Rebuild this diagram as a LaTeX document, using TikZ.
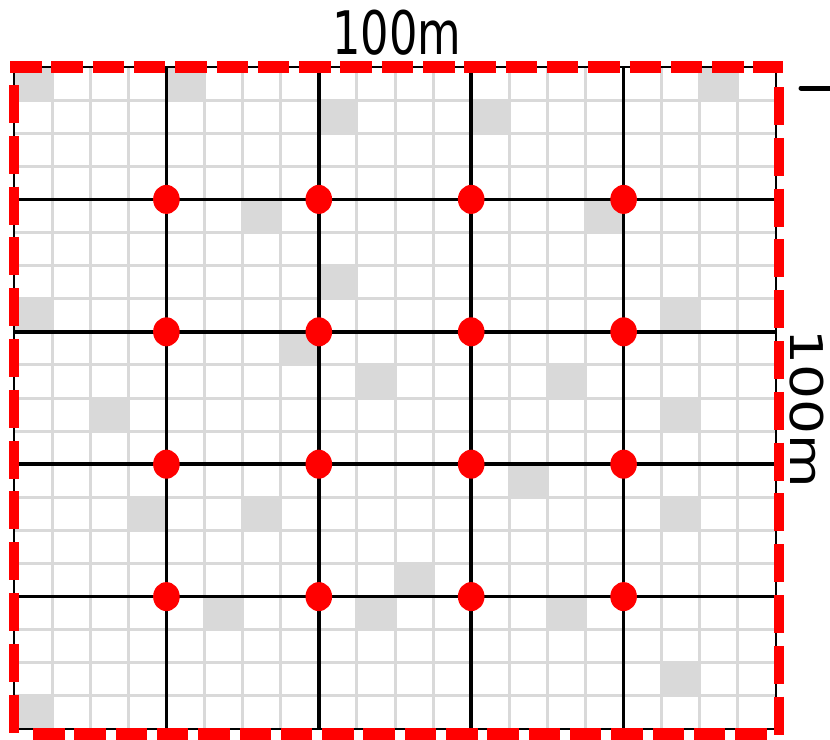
\documentclass[tikz,border=0pt]{standalone}
\usepackage{fontspec}
\setmainfont{DejaVu Sans}
\usepackage{tikz}
\definecolor{cellgray}{HTML}{D9D9D9}
\tikzset{
  fine/.style={draw=cellgray,line width=3pt},
  major/.style={draw=black,line width=3.5pt},
  frame/.style={draw=black,line width=2.5pt},
  hedge/.style={draw=red,line width=12pt,dash pattern=on 31.5pt off 9.8pt},
  vedge/.style={draw=red,line width=10pt,dash pattern=on 38pt off 12.8pt},
  cell/.style={fill=cellgray},
  post/.style={fill=red},
  lbl/.style={inner sep=0pt,text=black},
}

\begin{document}
\begin{tikzpicture}[x=1pt,y=-1pt]
  \useasboundingbox (0,0) rectangle (830,739);
  % field, 20 x 20 cells
  \begin{scope}[shift={(14,67)},x=38.1pt,y=-33.1pt]
    \foreach \c/\r in {0/0,4/0,18/0,8/1,12/1,6/4,15/4,8/6,0/7,17/7,7/8,9/9,14/9,
                       2/10,17/10,13/12,3/13,6/13,17/13,10/15,5/16,9/16,14/16,17/18,0/19}
      \fill[cell] (\c,\r) rectangle ++(1,1);
    \foreach \k in {1,...,19} {
      \draw[fine] (\k,0) -- (\k,20);
      \draw[fine] (0,\k) -- (20,\k);
    }
    \foreach \k in {4,8,12,16} {
      \draw[major] (\k,0) -- (\k,20);
      \draw[major] (0,\k) -- (20,\k);
    }
    \draw[frame] (0,0) rectangle (20,20);
  \end{scope}
  % dashed boundary
  \draw[hedge] (10,67) -- (783,67);
  \draw[hedge] (33,733.5) -- (768,733.5);
  \draw[vedge] (14,85) -- (14,739);
  \draw[vedge] (778.5,87) -- (778.5,739);
  % posts
  \begin{scope}[shift={(14,67)},x=38.1pt,y=-33.1pt]
    \foreach \i in {4,8,12,16}
      \foreach \j in {4,8,12,16}
        \fill[post] (\i,\j) ellipse [x radius=13.3pt,y radius=14.5pt];
  \end{scope}
  % dimensions
  \node[lbl,anchor=base,font=\fontsize{60}{60}\selectfont] (wlab) at (397,54) {\scalebox{0.746}[1]{100m}};
  \node[lbl,anchor=base,rotate=-90,font=\fontsize{55}{55}\selectfont] (hlab) at (790,409) {\scalebox{1}[0.82]{100m}};
  \draw[line width=5pt,line cap=round] (801,88) -- (835,88);
\end{tikzpicture}
\end{document}
